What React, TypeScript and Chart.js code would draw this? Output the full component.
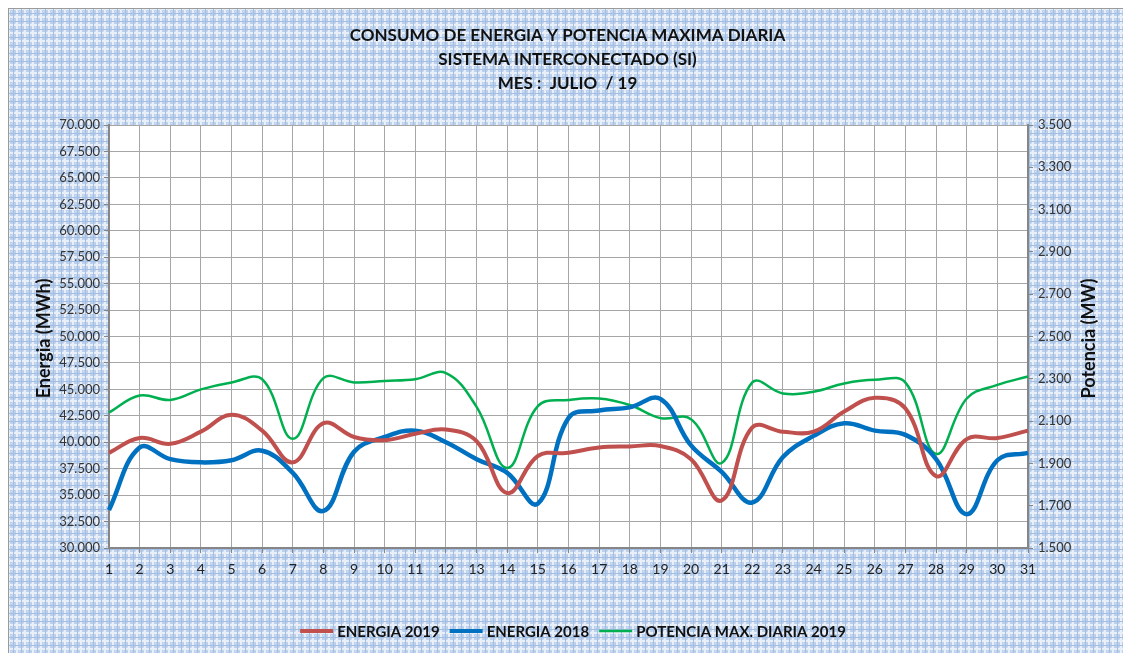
import React, { useEffect, useRef } from "react";
import { Chart, registerables } from "chart.js";

Chart.register(...registerables);

const days = ["1","2","3","4","5","6","7","8","9","10","11","12","13","14","15","16","17","18","19","20","21","22","23","24","25","26","27","28","29","30","31"];

const energia2019 = [39000, 40400, 39850, 41000, 42600, 41100, 38100, 41800, 40500, 40200, 40800, 41200, 40100, 35200, 38700, 39000, 39500, 39600, 39650, 38400, 34500, 41400, 41000, 41000, 42900, 44200, 43200, 36800, 40300, 40400, 41100];

const energia2018 = [33600, 39500, 38400, 38100, 38300, 39200, 37100, 33500, 39100, 40500, 41100, 40000, 38400, 37100, 34200, 42300, 43000, 43300, 44100, 39700, 37200, 34300, 38600, 40600, 41800, 41100, 40700, 38400, 33200, 38300, 39000];

const potencia2019 = [2140, 2221, 2200, 2250, 2283, 2298, 2016, 2303, 2283, 2290, 2298, 2327, 2167, 1878, 2171, 2200, 2207, 2176, 2114, 2109, 1902, 2283, 2231, 2239, 2278, 2295, 2282, 1945, 2207, 2271, 2311];

const titleLines = ["CONSUMO DE ENERGIA Y POTENCIA MAXIMA DIARIA", "SISTEMA INTERCONECTADO (SI)", "MES :  JULIO  / 19"];
const leftTitle = "Energia (MWh)";
const rightTitle = "Potencia (MW)";
const seriesNames = ["ENERGIA 2019", "ENERGIA 2018", "POTENCIA MAX. DIARIA 2019"];

const RED = "#c0504d";
const BLUE = "#0070c0";
const GREEN = "#00b050";
const FONT = "Lato, 'Liberation Sans', sans-serif";

const fmt = (v: number) => {
  const s = Math.round(v).toString();
  return s.replace(/\B(?=(\d{3})+(?!\d))/g, ".");
};

function makePattern(ctx: CanvasRenderingContext2D) {
  const t = document.createElement("canvas");
  t.width = 8;
  t.height = 8;
  const c = t.getContext("2d")!;
  c.fillStyle = "#bdd1ec";
  c.fillRect(0, 0, 8, 8);
  c.fillStyle = "#e8eff9";
  c.fillRect(0, 0, 2, 8);
  c.fillRect(0, 0, 8, 2);
  c.fillStyle = "#a3bfe4";
  c.fillRect(5, 0, 1, 8);
  c.fillRect(0, 5, 8, 1);
  c.fillStyle = "#d6e2f4";
  c.fillRect(3, 3, 1, 1);
  c.fillRect(7, 7, 1, 1);
  return ctx.createPattern(t, "repeat");
}

const decor = {
  id: "decor",
  beforeDraw(chart: any) {
    const { ctx, chartArea, width, height } = chart;
    ctx.save();
    const p = makePattern(ctx);
    ctx.fillStyle = p || "#bdd1ec";
    ctx.fillRect(0, 0, width, height);
    ctx.strokeStyle = "#9a9a9a";
    ctx.lineWidth = 1;
    ctx.strokeRect(0.5, 0.5, width - 1, height + 5);
    ctx.fillStyle = "#ffffff";
    ctx.fillRect(chartArea.left, chartArea.top, chartArea.right - chartArea.left, chartArea.bottom - chartArea.top);
    ctx.restore();
  },
  afterDraw(chart: any) {
    const { ctx, chartArea } = chart;
    ctx.save();
    ctx.fillStyle = "#111111";
    ctx.textAlign = "center";
    ctx.textBaseline = "middle";
    ctx.font = `bold 17px ${FONT}`;
    const cx = (chartArea.left + chartArea.right) / 2 - 1;
    titleLines.forEach((t, i) => ctx.fillText(t, cx, 28 + i * 24));

    const cy = (chartArea.top + chartArea.bottom) / 2 + 2;
    ctx.font = `bold 18px ${FONT}`;
    ctx.save();
    ctx.translate(36, cy);
    ctx.rotate(-Math.PI / 2);
    ctx.fillText(leftTitle, 0, 0);
    ctx.restore();
    ctx.save();
    ctx.translate(1081, cy);
    ctx.rotate(-Math.PI / 2);
    ctx.fillText(rightTitle, 0, 0);
    ctx.restore();

    // legend
    const colors = [RED, BLUE, GREEN];
    const widths = [4, 4, 2.5];
    ctx.font = `bold 15px ${FONT}`;
    ctx.textAlign = "left";
    const lineW = 33;
    const gapLT = 4;
    const gapItems = 10;
    let total = 0;
    const tw = seriesNames.map((s) => ctx.measureText(s).width);
    tw.forEach((w) => (total += lineW + gapLT + w));
    total += gapItems * (seriesNames.length - 1);
    let x = 565 - total / 2;
    const ly = 623;
    seriesNames.forEach((s, i) => {
      ctx.strokeStyle = colors[i];
      ctx.lineWidth = widths[i];
      ctx.beginPath();
      ctx.moveTo(x, ly);
      ctx.lineTo(x + lineW, ly);
      ctx.stroke();
      ctx.fillStyle = "#111111";
      ctx.fillText(s, x + lineW + gapLT, ly + 1);
      x += lineW + gapLT + tw[i] + gapItems;
    });
    ctx.restore();
  },
};

export default function App() {
  const ref = useRef<HTMLCanvasElement | null>(null);
  useEffect(() => {
    if (!ref.current) return;
    const chart = new Chart(ref.current, {
      type: "line",
      data: {
        labels: days,
        datasets: [
          { label: seriesNames[0], data: energia2019, borderColor: RED, backgroundColor: RED, borderWidth: 4, pointRadius: 0, tension: 0.4, yAxisID: "y" },
          { label: seriesNames[1], data: energia2018, borderColor: BLUE, backgroundColor: BLUE, borderWidth: 4.5, pointRadius: 0, tension: 0.4, yAxisID: "y" },
          { label: seriesNames[2], data: potencia2019, borderColor: GREEN, backgroundColor: GREEN, borderWidth: 2.5, pointRadius: 0, tension: 0.4, yAxisID: "y1" },
        ],
      },
      options: {
        responsive: false,
        animation: false,
        layout: { padding: { top: 117, left: 0, right: 0, bottom: 0 } },
        plugins: { legend: { display: false }, title: { display: false }, tooltip: { enabled: false } },
        scales: {
          x: {
            offset: false,
            grid: { color: "#a6a6a6", lineWidth: 1, tickLength: 5, tickColor: "#868686" },
            border: { color: "#868686", width: 2 },
            ticks: { color: "#222222", font: { family: FONT, size: 14 }, padding: 8, maxRotation: 0, autoSkip: false },
            afterFit: (s: any) => { s.height = 105; },
          },
          y: {
            position: "left",
            min: 30000,
            max: 70000,
            grid: { color: "#a6a6a6", lineWidth: 1, tickLength: 5, tickColor: "#868686" },
            border: { color: "#868686", width: 2 },
            ticks: { stepSize: 2500, color: "#333333", font: { family: FONT, size: 13 }, padding: 4, callback: (v: any) => fmt(Number(v)) },
            afterFit: (s: any) => { s.width = 101; },
          },
          y1: {
            position: "right",
            min: 1500,
            max: 3500,
            grid: { drawOnChartArea: false, tickLength: 5, color: "#868686" },
            border: { color: "#868686", width: 2 },
            ticks: { stepSize: 200, color: "#333333", font: { family: FONT, size: 13 }, padding: 5, callback: (v: any) => fmt(Number(v)) },
            afterFit: (s: any) => { s.width = 103; },
          },
        },
      },
      plugins: [decor],
    });
    return () => chart.destroy();
  }, []);
  return (
    <div>
      <canvas ref={ref} width={1123} height={645} style={{ display: "block" }} />
    </div>
  );
}
